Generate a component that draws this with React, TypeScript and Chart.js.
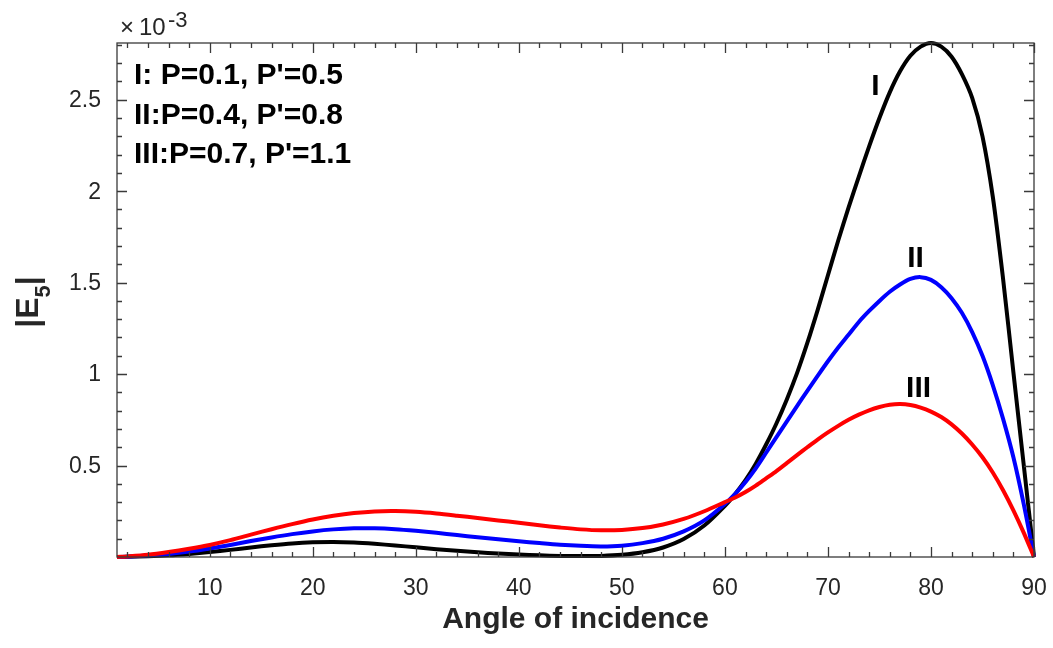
import React, { useEffect, useRef } from 'react';
import { Chart, registerables } from 'chart.js';

Chart.register(...registerables);

// Angle of incidence (degrees)
const angles = [1, 2, 4, 6, 8, 10, 12, 14, 16, 18, 20, 22, 24, 26, 28, 30, 32, 34, 36, 38, 40, 42, 44, 46, 48, 50, 52, 54, 56, 58, 60, 61, 62, 63, 64, 65, 66, 67, 68, 69, 70, 71, 72, 73, 74, 75, 76, 77, 78, 79, 80, 81, 82, 83, 84, 85, 86, 87, 88, 89, 90];

// |E5| values in units of 1e-3
const seriesI = [0, 0.001, 0.004, 0.009, 0.017, 0.027, 0.039, 0.052, 0.064, 0.074, 0.08, 0.082, 0.079, 0.072, 0.063, 0.053, 0.043, 0.034, 0.026, 0.019, 0.013, 0.009, 0.006, 0.005, 0.006, 0.012, 0.026, 0.052, 0.098, 0.172, 0.28, 0.345, 0.42, 0.51, 0.615, 0.73, 0.86, 1.005, 1.17, 1.35, 1.54, 1.73, 1.91, 2.08, 2.245, 2.4, 2.54, 2.655, 2.74, 2.79, 2.81, 2.79, 2.735, 2.64, 2.51, 2.3, 1.97, 1.52, 1.01, 0.505, 0];
const seriesII = [0, 0.002, 0.008, 0.017, 0.03, 0.047, 0.066, 0.087, 0.107, 0.125, 0.14, 0.151, 0.157, 0.157, 0.152, 0.143, 0.132, 0.12, 0.108, 0.097, 0.086, 0.076, 0.067, 0.061, 0.058, 0.062, 0.076, 0.1, 0.14, 0.2, 0.29, 0.345, 0.41, 0.485, 0.57, 0.655, 0.74, 0.825, 0.908, 0.99, 1.07, 1.145, 1.215, 1.285, 1.345, 1.4, 1.45, 1.49, 1.52, 1.53, 1.515, 1.475, 1.415, 1.335, 1.23, 1.1, 0.94, 0.755, 0.545, 0.29, 0];
const seriesIII = [0, 0.003, 0.012, 0.027, 0.045, 0.066, 0.092, 0.122, 0.152, 0.18, 0.205, 0.225, 0.24, 0.249, 0.251, 0.247, 0.238, 0.226, 0.213, 0.2, 0.187, 0.173, 0.161, 0.151, 0.146, 0.148, 0.158, 0.178, 0.208, 0.25, 0.3, 0.325, 0.355, 0.39, 0.43, 0.47, 0.513, 0.557, 0.6, 0.642, 0.681, 0.717, 0.75, 0.778, 0.802, 0.82, 0.832, 0.836, 0.831, 0.817, 0.795, 0.765, 0.725, 0.675, 0.615, 0.545, 0.462, 0.365, 0.255, 0.133, 0];

const xTicks = [10, 20, 30, 40, 50, 60, 70, 80, 90];
const xTickLabels = ['10', '20', '30', '40', '50', '60', '70', '80', '90'];
const yTicks = [0.5, 1, 1.5, 2, 2.5];
const yTickLabels = ['0.5', '1', '1.5', '2', '2.5'];
const legendLines = ["I: P=0.1, P'=0.5", "II:P=0.4, P'=0.8", "III:P=0.7, P'=1.1"];
const curveNames = ['I', 'II', 'III'];
const curveNameAngles = [74.6, 78.5, 78.8];
const curveNameValues = [2.57, 1.63, 0.92];

const X_MIN = 1;
const X_MAX = 90;
const Y_MIN = 0;
const Y_MAX = 2.81;

const AXIS_COLOR = '#3a3a3a';
const TEXT_COLOR = '#262626';
const FONT = "'Liberation Sans', Arial, Helvetica, sans-serif";

const decorPlugin = {
  id: 'decor',
  afterDraw(chart: any) {
    const ctx = chart.ctx as CanvasRenderingContext2D;
    const { left, right, top, bottom } = chart.chartArea;
    const xs = chart.scales.x;
    const ys = chart.scales.y;
    ctx.save();

    // box
    ctx.strokeStyle = AXIS_COLOR;
    ctx.lineWidth = 1.3;
    ctx.strokeRect(left, top, right - left, bottom - top);

    // ticks
    const major = 10;
    const minor = 5;
    ctx.beginPath();
    for (let v = 2; v <= X_MAX; v += 2) {
      const px = Math.round(xs.getPixelForValue(v)) + 0.5;
      const len = v % 10 === 0 ? major : minor;
      ctx.moveTo(px, bottom);
      ctx.lineTo(px, bottom - len);
      ctx.moveTo(px, top);
      ctx.lineTo(px, top + len);
    }
    for (let i = 1; i <= 28; i++) {
      const v = i / 10;
      const py = Math.round(ys.getPixelForValue(v)) + 0.5;
      const len = i % 5 === 0 ? major : minor;
      ctx.moveTo(left, py);
      ctx.lineTo(left + len, py);
      ctx.moveTo(right, py);
      ctx.lineTo(right - len, py);
    }
    ctx.stroke();

    // tick labels
    ctx.fillStyle = TEXT_COLOR;
    ctx.font = `23px ${FONT}`;
    ctx.textAlign = 'center';
    ctx.textBaseline = 'middle';
    xTicks.forEach((v, i) => {
      ctx.fillText(xTickLabels[i], xs.getPixelForValue(v), bottom + 32);
    });
    ctx.textAlign = 'right';
    yTicks.forEach((v, i) => {
      ctx.fillText(yTickLabels[i], left - 16, ys.getPixelForValue(v) + 1);
    });

    // exponent
    ctx.textAlign = 'left';
    ctx.textBaseline = 'alphabetic';
    ctx.font = `24px ${FONT}`;
    ctx.fillText('\u00d7', left + 3, 35);
    ctx.fillText('10', left + 22, 35);
    ctx.font = `22px ${FONT}`;
    ctx.fillText('-3', left + 51, 27);

    // x title
    ctx.font = `bold 30px ${FONT}`;
    ctx.textAlign = 'center';
    ctx.fillText('Angle of incidence', (left + right) / 2, 628);

    // y title |E5|
    ctx.save();
    ctx.translate(38, 302);
    ctx.rotate(-Math.PI / 2);
    ctx.textAlign = 'left';
    const mainFont = `bold 32px ${FONT}`;
    const subFont = `bold 22px ${FONT}`;
    ctx.font = mainFont;
    const w1 = ctx.measureText('|E').width;
    const w3 = ctx.measureText('|').width;
    ctx.font = subFont;
    const w2 = ctx.measureText('5').width;
    let tx = -(w1 + w2 + w3) / 2;
    ctx.font = mainFont;
    ctx.fillText('|E', tx, 0);
    tx += w1;
    ctx.font = subFont;
    ctx.fillText('5', tx, 12);
    tx += w2;
    ctx.font = mainFont;
    ctx.fillText('|', tx, 0);
    ctx.restore();

    // legend text
    ctx.fillStyle = '#000';
    ctx.font = `bold 30px ${FONT}`;
    ctx.textAlign = 'left';
    const baselines = [84, 123.5, 163];
    legendLines.forEach((t, i) => ctx.fillText(t, 134, baselines[i]));

    // curve labels
    ctx.textAlign = 'center';
    ctx.textBaseline = 'middle';
    curveNames.forEach((t, i) => {
      ctx.fillText(t, xs.getPixelForValue(curveNameAngles[i]), ys.getPixelForValue(curveNameValues[i]));
    });

    ctx.restore();
  },
};

export default function App() {
  const ref = useRef<HTMLCanvasElement | null>(null);

  useEffect(() => {
    if (!ref.current) return;
    const mk = (vals: number[]) => angles.map((a, i) => ({ x: a, y: vals[i] }));
    const common = { borderWidth: 4, pointRadius: 0, tension: 0.3, clip: false, borderJoinStyle: 'round' };
    const chart = new Chart(ref.current, {
      type: 'line',
      data: {
        datasets: [
          { label: 'I', data: mk(seriesI), borderColor: '#000000', order: 3, ...common } as any,
          { label: 'II', data: mk(seriesII), borderColor: '#0000ff', order: 2, ...common } as any,
          { label: 'III', data: mk(seriesIII), borderColor: '#ff0000', order: 1, ...common } as any,
        ],
      },
      options: {
        animation: false,
        responsive: false,
        devicePixelRatio: 1,
        layout: { padding: { top: 43, right: 19, left: 0, bottom: 0 } },
        plugins: { legend: { display: false }, tooltip: { enabled: false } },
        events: [],
        scales: {
          x: {
            type: 'linear',
            min: X_MIN,
            max: X_MAX,
            ticks: { display: false },
            grid: { display: false },
            border: { display: false },
            afterFit: (s: any) => { s.height = 91; },
          },
          y: {
            type: 'linear',
            min: Y_MIN,
            max: Y_MAX,
            ticks: { display: false },
            grid: { display: false },
            border: { display: false },
            afterFit: (s: any) => { s.width = 117; },
          },
        },
      } as any,
      plugins: [decorPlugin],
    });
    return () => chart.destroy();
  }, []);

  return (
    <div style={{ position: 'fixed', left: 0, top: 0, width: 1053, height: 648, background: '#fff' }}>
      <canvas ref={ref} width={1053} height={648} style={{ display: 'block' }} />
    </div>
  );
}
